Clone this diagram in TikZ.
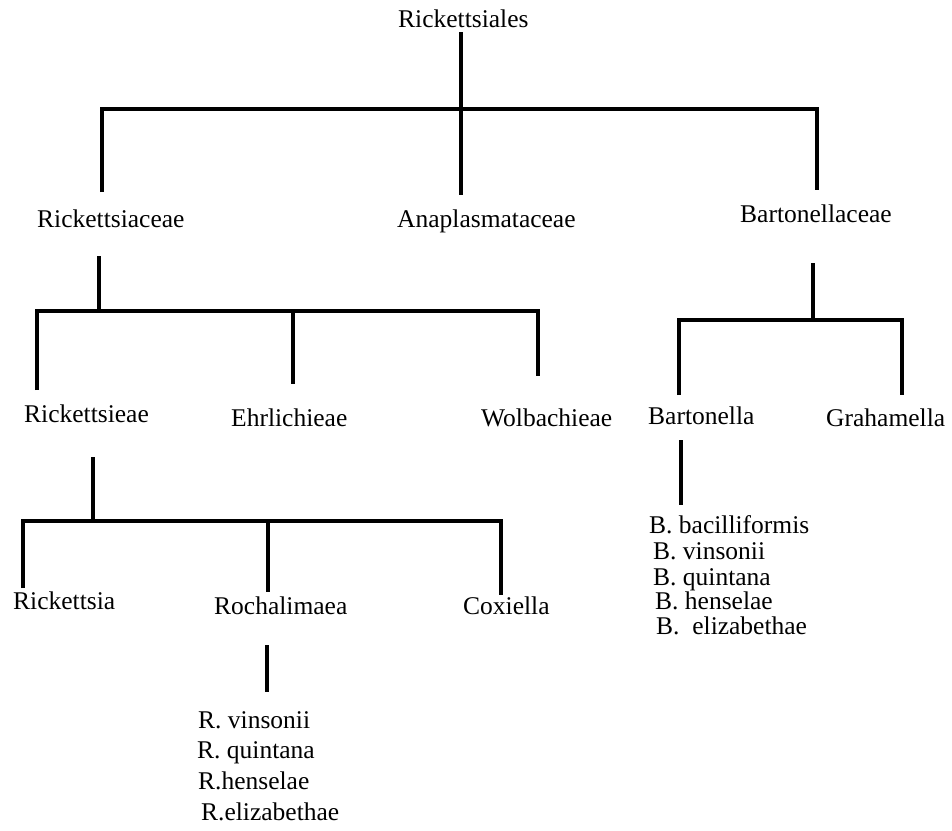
\documentclass[tikz,border=0pt]{standalone}
\usepackage{fontspec}
\setmainfont{Liberation Serif}
\begin{document}
\begin{tikzpicture}[x=1pt,y=-1pt,
  lbl/.style={inner sep=0pt, anchor=base west, font=\fontsize{25.5}{30}\selectfont},
  br/.style={line width=4.5pt, line join=miter, line cap=butt}]
\useasboundingbox (0,0) rectangle (952,830);
% labels
\node[lbl] (root)  at (398,27)  {Rickettsiales};
\node[lbl] (ricc)  at (37,227)  {Rickettsiaceae};
\node[lbl] (anap)  at (397,227) {Anaplasmataceae};
\node[lbl] (bartc) at (740,222) {Bartonellaceae};
\node[lbl] (ricke) at (24,422)  {Rickettsieae};
\node[lbl] (ehrl)  at (231,426) {Ehrlichieae};
\node[lbl] (wolb)  at (481,426) {Wolbachieae};
\node[lbl] (bart)  at (648,424) {Bartonella};
\node[lbl] (grah)  at (826,426) {Grahamella};
\node[lbl] (rick)  at (13,609)  {Rickettsia};
\node[lbl] (roch)  at (214,614) {Rochalimaea};
\node[lbl] (coxi)  at (463,614) {Coxiella};
\node[lbl] (b1) at (649,533) {B. bacilliformis};
\node[lbl] (b2) at (653,559) {B. vinsonii};
\node[lbl] (b3) at (653,585) {B. quintana};
\node[lbl] (b4) at (655,609) {B. henselae};
\node[lbl] (b5) at (656,634) {B. \ elizabethae};
\node[lbl] (r1) at (198,728) {R. vinsonii};
\node[lbl] (r2) at (197,758) {R. quintana};
\node[lbl] (r3) at (198,789) {R.henselae};
\node[lbl] (r4) at (201,820) {R.elizabethae};
% level 1
\coordinate (t0) at (461,32);
\coordinate (t1) at (461,195);
\coordinate (t2) at (102,192);
\coordinate (tb) at (461,109);
\coordinate (t3) at (817,190);
\draw[br] (t0) -- (t1);
\draw[br] (t2) |- (tb) -| (t3);
% Rickettsiaceae
\coordinate (c0) at (99,256);
\coordinate (cb) at (99,311);
\coordinate (c1) at (37,390);
\coordinate (c2) at (293,384);
\coordinate (c3) at (538,376);
\coordinate (c2b) at (293,311);
\draw[br] (c0) -- (cb);
\draw[br] (c1) |- (cb) -| (c3);
\draw[br] (c2b) -- (c2);
% Bartonellaceae
\coordinate (d0) at (813,263);
\coordinate (db) at (813,320);
\coordinate (d1) at (679,395);
\coordinate (d2) at (902,395);
\draw[br] (d0) -- (db);
\draw[br] (d1) |- (db) -| (d2);
% Bartonella
\coordinate (e0) at (681,440);
\coordinate (e1) at (681,505);
\draw[br] (e0) -- (e1);
% Rickettsieae
\coordinate (f0) at (93,457);
\coordinate (fb) at (93,521);
\coordinate (f1) at (23,588);
\coordinate (f2) at (268,592);
\coordinate (f2b) at (268,521);
\coordinate (f3) at (501,595);
\draw[br] (f0) -- (fb);
\draw[br] (f1) |- (fb) -| (f3);
\draw[br] (f2b) -- (f2);
% Rochalimaea
\coordinate (g0) at (267,645);
\coordinate (g1) at (267,692);
\draw[br] (g0) -- (g1);
\end{tikzpicture}
\end{document}
